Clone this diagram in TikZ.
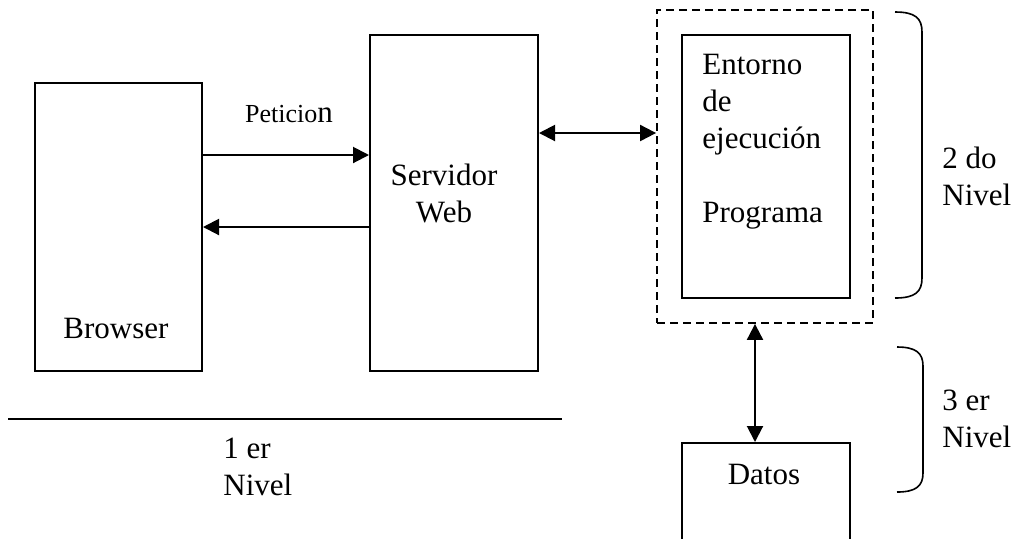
\documentclass[tikz,border=0pt]{standalone}
\usepackage{fontspec}
\setmainfont{Liberation Serif}
\usetikzlibrary{arrows.meta}
\tikzset{
  caja/.style={draw, line width=1pt, inner sep=0pt},
  punteada/.style={draw, line width=0.9pt, dash pattern=on 4pt off 2.5pt, inner sep=0pt},
  flecha/.style={line width=1pt, -{Triangle[length=8pt,width=8pt]}},
  dflecha/.style={line width=1pt, {Triangle[length=8pt,width=8pt]}-{Triangle[length=8pt,width=8pt]}},
  llave/.style={line width=0.8pt},
  texto/.style={inner sep=0pt, font=\fontsize{15.5}{18.5}\selectfont, align=left},
}
\begin{document}
\begin{tikzpicture}[x=0.5pt,y=-0.5pt]
\useasboundingbox (0,0) rectangle (1017,538);
\clip (0,0) rectangle (1017,538);
% primer nivel
\node[caja, minimum width=83.5pt, minimum height=144pt] (browser) at (118.5,227) {};
\node[caja, minimum width=84pt, minimum height=168pt] (servidor) at (454,203) {};
\node[texto, anchor=base] (tbrowser) at (116,338) {Browser};
\node[texto, anchor=base, align=center] (tservidor) at (444,222) {Servidor\\Web};
\node[anchor=base, inner sep=0pt] (tpeticion) at (289,122) {{\fontsize{13}{16}\selectfont Peticio}{\fontsize{15.5}{18.5}\selectfont n}};
\draw[flecha] (browser.east |- 0,155) -- (servidor.west |- 0,155);
\draw[flecha] (servidor.west |- 0,227) -- (browser.east |- 0,227);
\draw[line width=1pt] (8,419) -- (562,419);
\node[texto, anchor=base west] (tnivel1) at (223,495) {1 er\\Nivel};

% segundo nivel
\node[punteada, minimum width=108pt, minimum height=156.5pt] (entorno) at (765,166.5) {};
\node[caja, minimum width=84pt, minimum height=131.5pt] (programa) at (766,166.5) {};
\node[texto, anchor=base west] (tprograma) at (702,222) {Entorno\\de\\ejecución\\[18.5pt]Programa};
\draw[dflecha] (servidor.east |- 0,133) -- (entorno.west |- 0,133);
\draw[llave] (895,12) .. controls (915,12) and (922,18) .. (922,32) -- (922,278) .. controls (922,292) and (915,298) .. (895,298);
\node[texto, anchor=base west] (tnivel2) at (942,205) {2 do\\Nivel};

% tercer nivel
\node[caja, minimum width=84pt, minimum height=100pt] (datos) at (766,543) {};
\node[texto, anchor=base] (tdatos) at (764,484) {Datos};
\draw[dflecha] (entorno.south -| 755,0) -- (datos.north -| 755,0);
\draw[llave] (897,347) .. controls (916,347) and (923,353) .. (923,366) -- (923,473) .. controls (923,486) and (916,492) .. (897,492);
\node[texto, anchor=base west] (tnivel3) at (942,447) {3 er\\Nivel};
\end{tikzpicture}
\end{document}
